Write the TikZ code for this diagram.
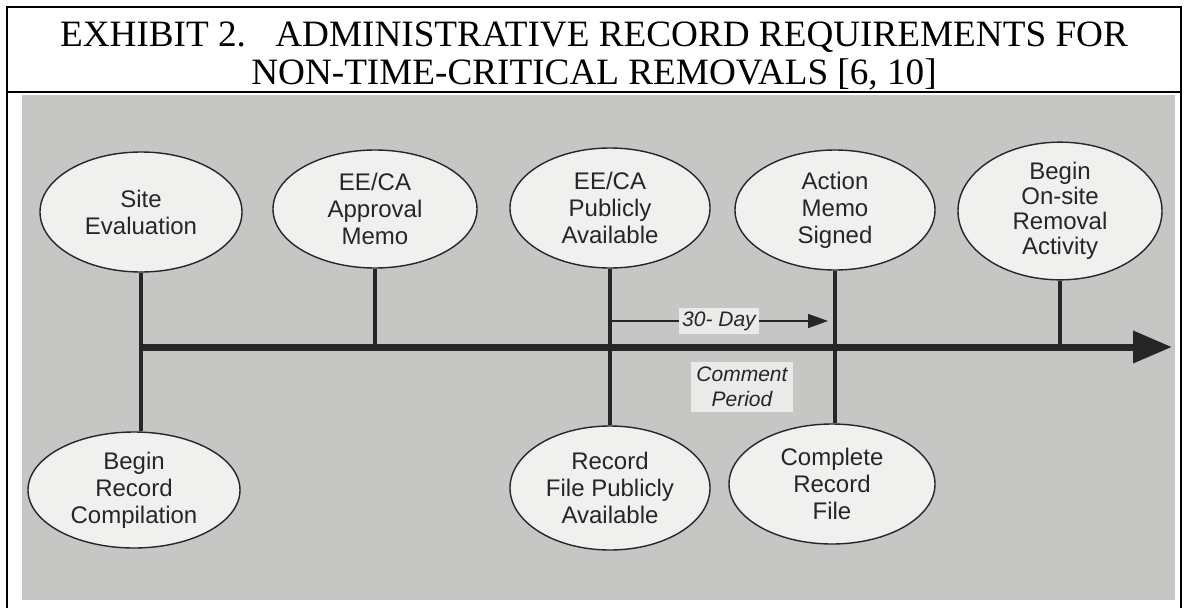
\documentclass[tikz,border=0pt]{standalone}
\usepackage{fontspec}
\setmainfont{Liberation Serif}
\newfontfamily\helv{Liberation Sans}
\usetikzlibrary{positioning}
\usetikzlibrary{shapes.geometric}
\usetikzlibrary{arrows.meta}
\definecolor{paper}{RGB}{198,198,196}
\definecolor{oval}{RGB}{240,240,238}
\definecolor{ink}{RGB}{38,38,38}
\definecolor{tagfill}{RGB}{234,234,232}
\tikzset{
    every picture/.style={>=stealth,x=1pt,y=-1pt},
}

\begin{document}
\begin{tikzpicture}[event/.style={ellipse,draw=ink,line width=1.4pt,fill=oval,inner sep=0pt,align=center,text=ink,font=\helv\fontsize{24}{27}\selectfont},
stem/.style={draw=ink,line width=3.2pt},
tag/.style={fill=tagfill,inner sep=3pt,align=center,text=ink,font=\helv\itshape\fontsize{21}{25}\selectfont},
heading/.style={anchor=base,font=\fontsize{37.2}{40}\selectfont}]
\useasboundingbox (0,0) rectangle (1184,608);
\fill[paper] (22,95) rectangle (1175,600);
\draw[line width=2.5pt] (7,608) -- (7,7) -- (1181,7) -- (1181,608);
\draw[line width=2.5pt] (7,92) -- (1181,92);
\node[heading] (title1) at (594,46) {EXHIBIT 2.\hspace{0.79em}ADMINISTRATIVE RECORD REQUIREMENTS FOR};
\node[heading] (title2) at (594,84) {NON-TIME-CRITICAL REMOVALS [6, 10]};

% milestones above the line
\node[event,minimum width=202pt,minimum height=120pt] (site) at (141,212) {Site\\Evaluation};
\node[event,minimum width=204pt,minimum height=118pt] (approval) at (375,209) {EE/CA\\Approval\\Memo};
\node[event,minimum width=200pt,minimum height=120pt] (eeca) at (610,208) {EE/CA\\Publicly\\Available};
\node[event,minimum width=200pt,minimum height=120pt] (action) at (835,210) {Action\\Memo\\Signed};
\node[event,minimum width=204pt,minimum height=134pt,font=\helv\fontsize{24}{25}\selectfont] (onsite) at (1060,211) {Begin\\On-site\\Removal\\Activity};

% milestones below the line
\node[event,minimum width=212pt,minimum height=116pt] (begrec) at (134,490) {Begin\\Record\\Compilation};
\node[event,minimum width=200pt,minimum height=124pt] (recfile) at (610,488) {Record\\File Publicly\\Available};
\node[event,minimum width=206pt,minimum height=120pt] (complete) at (832,484) {Complete\\Record\\File};

\coordinate (t0) at (141,347);
\coordinate (tend) at (1172,347);
\coordinate (d0) at (610,321);
\coordinate (d1) at (828,321);

\path (site.south) edge[stem] (site.south |- begrec.north)
(approval.south) edge[stem] (approval.south |- t0)
(eeca.south) edge[stem] (recfile.north)
(action.south) edge[stem] (action.south |- complete.north)
(onsite.south) edge[stem] (onsite.south |- t0)
;
\draw[ink,line width=7pt,-{Triangle[length=39pt,width=31pt]}] (t0) -- (tend);

\draw[ink,line width=1.6pt,-{Triangle[length=20pt,width=14pt]}] (d0) -- node[tag] (days) {30- Day} (d1);
\node[tag,inner sep=5pt] (comment) at (742,387) {Comment\\Period};
\end{tikzpicture}
\end{document}
